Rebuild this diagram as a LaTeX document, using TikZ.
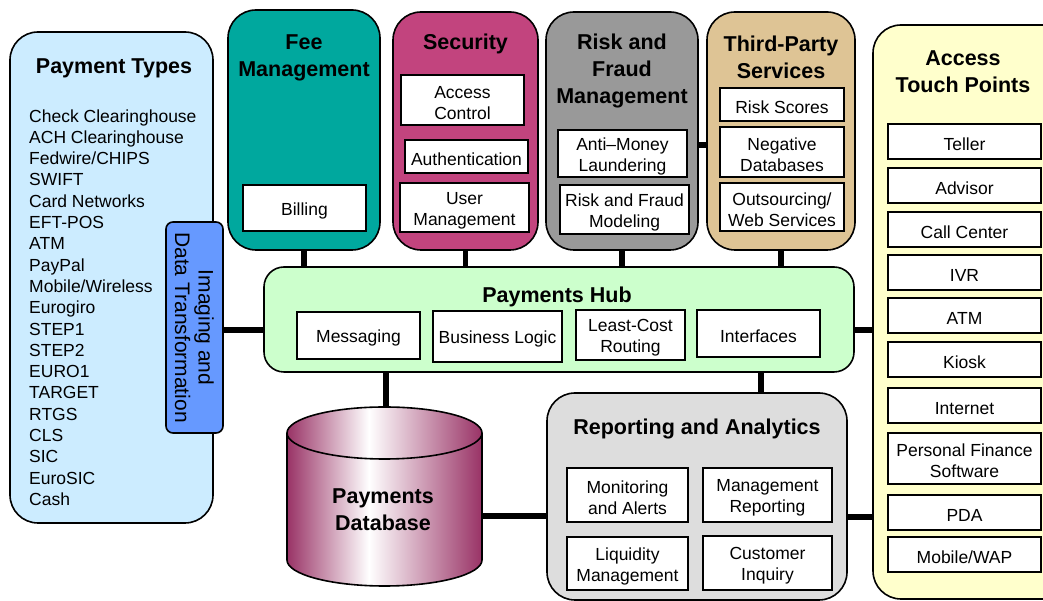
\documentclass[tikz,border=0pt]{standalone}
\usepackage{fontspec}
\setmainfont{Liberation Sans}
\usetikzlibrary{calc}
\definecolor{ptblue}{HTML}{CCECFF}
\definecolor{imgblue}{HTML}{6699FF}
\definecolor{feeteal}{HTML}{00A89E}
\definecolor{secpink}{HTML}{C2447E}
\definecolor{riskgray}{HTML}{999999}
\definecolor{tptan}{HTML}{DEC495}
\definecolor{touchyel}{HTML}{FFFFCC}
\definecolor{hubgreen}{HTML}{CCFFCC}
\definecolor{repgray}{HTML}{DDDDDD}
\definecolor{dbm}{HTML}{993366}
\pgfdeclarehorizontalshading{dbshade}{100bp}{color(0bp)=(dbm); color(25bp)=(dbm); color(46bp)=(white); color(75bp)=(dbm); color(100bp)=(dbm)}
\pgfdeclarelayer{background}
\pgfsetlayers{background,main}
\newcommand{\boxfont}{\fontsize{17.5}{21}\selectfont}
\newcommand{\listfont}{\fontsize{17.5}{21.3}\selectfont}
\newcommand{\ttlfont}{\bfseries\fontsize{21.5}{27}\selectfont}
\newcommand{\imgfont}{\fontsize{21}{23.5}\selectfont}
\newcommand{\st}{\rule{0pt}{17.8pt}}
\tikzset{
  panel/.style={draw=black, line width=1.6pt, rounded corners=28pt},
  wbox/.style={draw=black, fill=white, line width=1.6pt, align=center, font=\boxfont, inner sep=1pt},
  ttl/.style={font=\ttlfont, align=center, inner sep=0pt},
  conn/.style={line width=5.5pt},
}
\begin{document}
\begin{tikzpicture}[x=1pt,y=1pt]
\useasboundingbox (0,0) rectangle (1043,601);
\clip (0,0) rectangle (1043,601);

% ---------- panels ----------
\node[panel, fill=ptblue, minimum width=203pt, minimum height=491pt] (pt) at (111.5,323.5) {};
\node[ttl] (ptT) at (114,533) {Payment Types};
\node[anchor=west, align=left, font=\listfont, inner sep=0pt] (ptlist) at (29,293.5)
 {Check Clearinghouse\\ACH Clearinghouse\\Fedwire/CHIPS\\SWIFT\\Card Networks\\EFT-POS\\ATM\\PayPal\\Mobile/Wireless\\Eurogiro\\STEP1\\STEP2\\EURO1\\TARGET\\RTGS\\CLS\\SIC\\EuroSIC\\Cash};

\node[draw=black, line width=1.6pt, fill=imgblue, rounded corners=7pt, minimum width=57pt, minimum height=211pt] (img) at (194.5,273.5) {};
\node[rotate=-90, align=center, font=\imgfont, inner sep=0pt] (imgT) at (img.center) {Imaging and\\Data Transformation};

\node[panel, fill=feeteal, minimum width=152pt, minimum height=240pt] (fee) at (304,471) {};
\node[ttl] (feeT) at (304,543.5) {Fee\\Management};
\node[wbox, minimum width=123pt, minimum height=46pt] (billing) at (304.5,393) {\st Billing};

\node[panel, fill=secpink, minimum width=145pt, minimum height=238pt] (sec) at (465.5,470) {};
\node[ttl] (secT) at (465.5,557) {Security};
\node[wbox, minimum width=123pt, minimum height=50pt] (acc) at (462.5,501) {\st Access\\Control};
\node[wbox, minimum width=123pt, minimum height=33pt] (auth) at (466.5,444.5) {\st Authentication};
\node[wbox, minimum width=129pt, minimum height=49pt] (um) at (464.5,393.5) {\st User\\Management};

\node[panel, fill=riskgray, minimum width=152pt, minimum height=238pt] (risk) at (622,470) {};
\node[ttl] (riskT) at (622,530) {Risk and\\Fraud\\Management};
\node[wbox, minimum width=129pt, minimum height=47pt] (aml) at (622.5,447.5) {\st Anti–Money\\Laundering};
\node[wbox, minimum width=129pt, minimum height=49pt] (rfm) at (624.5,391.5) {\st Risk and Fraud\\Modeling};

\node[panel, fill=tptan, minimum width=148pt, minimum height=238pt] (third) at (781,470) {};
\node[ttl] (thirdT) at (781,543.5) {Third-Party\\Services};
\node[wbox, minimum width=124pt, minimum height=33pt] (rs) at (782,496.5) {\st Risk Scores};
\node[wbox, minimum width=124pt, minimum height=50pt] (nd) at (782,449) {\st Negative\\Databases};
\node[wbox, minimum width=124pt, minimum height=48pt] (os) at (782,394) {\st Outsourcing/\\Web Services};

\node[panel, fill=touchyel, minimum width=200pt, minimum height=574pt] (touch) at (973,289) {};
\node[ttl] (touchT) at (963,529.5) {Access\\Touch Points};
\node[wbox, minimum width=153pt, minimum height=35pt] (teller) at (964.5,459.5) {\st Teller};
\node[wbox, minimum width=153pt, minimum height=35pt] (advisor) at (964.5,415.5) {\st Advisor};
\node[wbox, minimum width=153pt, minimum height=35pt] (callc) at (964.5,371.5) {\st Call Center};
\node[wbox, minimum width=153pt, minimum height=35pt] (ivr) at (964.5,328.5) {\st IVR};
\node[wbox, minimum width=153pt, minimum height=35pt] (atm) at (964.5,285.5) {\st ATM};
\node[wbox, minimum width=153pt, minimum height=35pt] (kiosk) at (964.5,241.5) {\st Kiosk};
\node[wbox, minimum width=153pt, minimum height=35pt] (inet) at (964.5,195.5) {\st Internet};
\node[wbox, minimum width=153pt, minimum height=51pt] (pfs) at (964.5,142.5) {\st Personal Finance\\Software};
\node[wbox, minimum width=153pt, minimum height=35pt] (pda) at (964.5,88.5) {\st PDA};
\node[wbox, minimum width=153pt, minimum height=35pt] (mwap) at (964.5,46.5) {\st Mobile/WAP};

\node[panel, fill=hubgreen, rounded corners=20pt, minimum width=590pt, minimum height=105pt] (hub) at (559,281.5) {};
\node[ttl] (hubT) at (557,304) {Payments Hub};
\node[wbox, minimum width=123pt, minimum height=47pt] (msg) at (358.5,265.5) {\st Messaging};
\node[wbox, minimum width=129pt, minimum height=51pt] (bl) at (497.5,264.5) {\st Business Logic};
\node[wbox, minimum width=109pt, minimum height=50pt] (lcr) at (630.5,266) {\st Least-Cost\\Routing};
\node[wbox, minimum width=123pt, minimum height=47pt] (intf) at (758.5,267.5) {\st Interfaces};

\node[panel, fill=repgray, minimum width=300pt, minimum height=207pt] (rep) at (697,104.5) {};
\node[ttl] (repT) at (697,172) {Reporting and Analytics};
\node[wbox, minimum width=121pt, minimum height=54pt] (mon) at (627.5,106) {\st Monitoring\\and Alerts};
\node[wbox, minimum width=129pt, minimum height=54pt] (mr) at (767.5,106) {\st Management\\Reporting};
\node[wbox, minimum width=121pt, minimum height=53pt] (liq) at (627.5,37.5) {\st Liquidity\\Management};
\node[wbox, minimum width=129pt, minimum height=54pt] (ci) at (767.5,38) {\st Customer\\Inquiry};

% ---------- database cylinder ----------
\shade[shading=dbshade] (287,168) -- (287,41) arc[start angle=180, end angle=360, x radius=97.5pt, y radius=26pt] -- (482,168) arc[start angle=0, end angle=180, x radius=97.5pt, y radius=26pt] -- cycle;
\draw[line width=1.6pt] (287,168) -- (287,41) arc[start angle=180, end angle=360, x radius=97.5pt, y radius=26pt] -- (482,168);
\shade[shading=dbshade] (384.5,168) ellipse[x radius=97.5pt, y radius=26pt];
\draw[line width=1.6pt] (384.5,168) ellipse[x radius=97.5pt, y radius=26pt];
\node[ttl] (db) at (383,91) {Payments\\Database};
\coordinate (dbtop) at (386,194);
\coordinate (dbright) at (482,85);

% ---------- connectors ----------
\coordinate (ly) at (0,271);
\coordinate (ry) at (0,456);
\coordinate (hr) at (761,0);
\coordinate (ry2) at (0,84);
\begin{pgfonlayer}{background}
\draw[conn] (img.east |- ly) -- (hub.west |- ly);
\draw[conn] (hub.east |- ly) -- (touch.west |- ly);
\draw[conn] (fee.south) -- (fee.south |- hub.north);
\draw[conn] (sec.south) -- (sec.south |- hub.north);
\draw[conn] (risk.south) -- (risk.south |- hub.north);
\draw[conn] (third.south) -- (third.south |- hub.north);
\draw[conn] (risk.east |- ry) -- (third.west |- ry);
\draw[conn] (dbtop |- hub.south) -- (dbtop);
\draw[conn] (hr |- hub.south) -- (hr |- rep.north);
\draw[conn] (dbright) -- (rep.west |- dbright);
\draw[conn] (rep.east |- ry2) -- (touch.west |- ry2);
\end{pgfonlayer}
\end{tikzpicture}
\end{document}
